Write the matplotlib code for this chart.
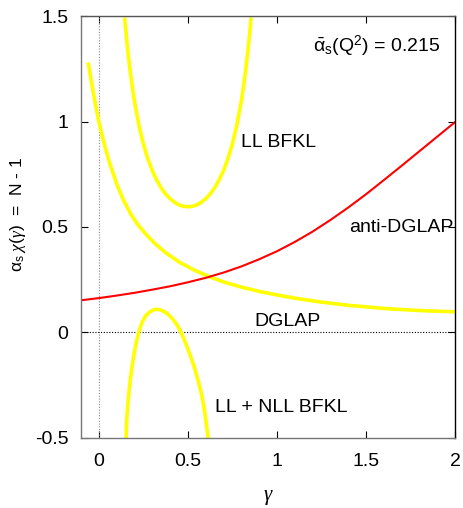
"""Effective splitting kernel: LL / NLL BFKL, DGLAP and anti-DGLAP curves."""

import matplotlib

matplotlib.use("Agg")
import matplotlib.pyplot as plt  # noqa: E402

plt.rcParams["font.family"] = ["Liberation Sans", "DejaVu Sans"]
plt.rcParams["mathtext.fontset"] = "custom"
plt.rcParams["mathtext.rm"] = "Liberation Sans"
plt.rcParams["mathtext.it"] = "Liberation Serif:italic"
plt.rcParams["mathtext.sf"] = "Liberation Sans"

# curves (gamma, alpha_s chi)
ll_gamma = [0.145, 0.15, 0.16, 0.175, 0.19, 0.2, 0.225, 0.25, 0.275, 0.3, 0.325,
            0.35, 0.375, 0.4, 0.425, 0.45, 0.475, 0.5, 0.525, 0.55, 0.575, 0.6,
            0.625, 0.65, 0.675, 0.7, 0.725, 0.75, 0.775, 0.8, 0.81, 0.825, 0.84,
            0.85, 0.855]
ll_chi = [1.493, 1.445, 1.357, 1.245, 1.151, 1.096, 0.983, 0.894, 0.824, 0.767, 0.722,
          0.685, 0.656, 0.634, 0.617, 0.605, 0.598, 0.596, 0.598, 0.605, 0.617, 0.634,
          0.656, 0.685, 0.722, 0.767, 0.824, 0.894, 0.983, 1.096, 1.151, 1.245, 1.357,
          1.445, 1.493]

nll_gamma = [0.153, 0.156, 0.16, 0.167, 0.175, 0.185, 0.195, 0.205, 0.215, 0.225,
             0.235, 0.245, 0.258, 0.27, 0.285, 0.305, 0.325, 0.345, 0.365, 0.385,
             0.405, 0.425, 0.445, 0.462, 0.48, 0.50, 0.52, 0.54, 0.56, 0.58, 0.597,
             0.614]
nll_chi = [-0.50, -0.43, -0.37, -0.30, -0.235, -0.17, -0.115, -0.070, -0.030, 0.003,
           0.030, 0.052, 0.072, 0.085, 0.097, 0.107, 0.110, 0.107, 0.100, 0.089,
           0.073, 0.053, 0.028, 0.0, -0.035, -0.078, -0.124, -0.175, -0.235, -0.305, -0.39,
           -0.50]

dglap_gamma = [-0.06, -0.04, -0.02, 0.0, 0.03, 0.06, 0.10, 0.137, 0.18, 0.22, 0.268,
               0.32, 0.38, 0.455, 0.54, 0.624, 0.70, 0.80, 0.90, 1.00, 1.12, 1.242,
               1.40, 1.616, 1.80, 2.0]
dglap_chi = [1.28, 1.18, 1.085, 1.00, 0.895, 0.805, 0.705, 0.630, 0.560, 0.510, 0.462,
             0.418, 0.375, 0.332, 0.294, 0.263, 0.240, 0.215, 0.195, 0.178, 0.160, 0.145,
             0.129, 0.113, 0.104, 0.098]

anti_gamma = [-0.107, 0.0, 0.1, 0.2, 0.3, 0.4, 0.5, 0.6, 0.7, 0.8, 0.9, 1.0, 1.1,
              1.2, 1.3, 1.4, 1.5, 1.6, 1.7, 1.8, 1.9, 2.0]
anti_chi = [0.152, 0.163, 0.175, 0.188, 0.203, 0.219, 0.238, 0.259, 0.284, 0.313,
            0.347, 0.385, 0.429, 0.478, 0.533, 0.592, 0.655, 0.722, 0.790, 0.859,
            0.928, 0.997]

xticks = [0, 0.5, 1, 1.5, 2]
xtick_labels = ["0", "0.5", "1", "1.5", "2"]
yticks = [-0.5, 0, 0.5, 1, 1.5]
ytick_labels = ["-0.5", "0", "0.5", "1", "1.5"]

fig = plt.figure(figsize=(4.64, 5.08), dpi=100)
ax = fig.add_axes([0.1746, 0.1378, 0.8060, 0.8307])

ax.axvline(0, color="#888888", linestyle=(0, (1, 1.5)), linewidth=0.8)
ax.axhline(0, color="black", linestyle=(0, (1, 1.5)), linewidth=0.8)

yellow = "#ffff00"
for gx, gy in ((ll_gamma, ll_chi), (nll_gamma, nll_chi), (dglap_gamma, dglap_chi)):
    ax.plot(gx, gy, color=yellow, linewidth=2.6, solid_capstyle="butt",
            solid_joinstyle="round")
ax.plot(anti_gamma, anti_chi, color="#ff0000", linewidth=1.5)

ax.set_xlim(-0.1, 2)
ax.set_ylim(-0.5, 1.5)
ax.set_xticks(xticks, xtick_labels)
ax.set_yticks(yticks, ytick_labels)
ax.tick_params(direction="in", length=5, width=0.8, labelsize=14,
               top=True, right=True)
ax.tick_params(axis="x", pad=11)
ax.tick_params(axis="y", pad=9)
for side in ("left", "bottom"):
    ax.spines[side].set_color("#777777")
ax.spines["top"].set_color("#555555")
ax.spines["right"].set_color("black")
for s in ax.spines.values():
    s.set_linewidth(1.0)

fs = 14
ax.text(0.80, 0.90, "LL BFKL", fontsize=fs, ha="left", va="center")
ax.text(1.405, 0.496, "anti-DGLAP", fontsize=fs, ha="left", va="center")
ax.text(0.876, 0.054, "DGLAP", fontsize=fs, ha="left", va="center")
ax.text(0.652, -0.357, "LL + NLL BFKL", fontsize=fs, ha="left", va="center")
ax.text(1.20, 1.355, r"$\bar{\mathrm{\alpha}}_\mathrm{s}(\mathrm{Q}^2)$ = 0.215",
        fontsize=fs, ha="left", va="center")

ax.set_xlabel(r"$\gamma$", fontsize=15)
ax.xaxis.set_label_coords(0.5, -0.118)
ax.set_ylabel(r"$\mathrm{\alpha_s}\ \chi(\gamma)$  =  N - 1", fontsize=12.5)
ax.yaxis.set_label_coords(-0.142, 0.53)

fig.savefig("out.png", dpi=100)
plt.close(fig)
